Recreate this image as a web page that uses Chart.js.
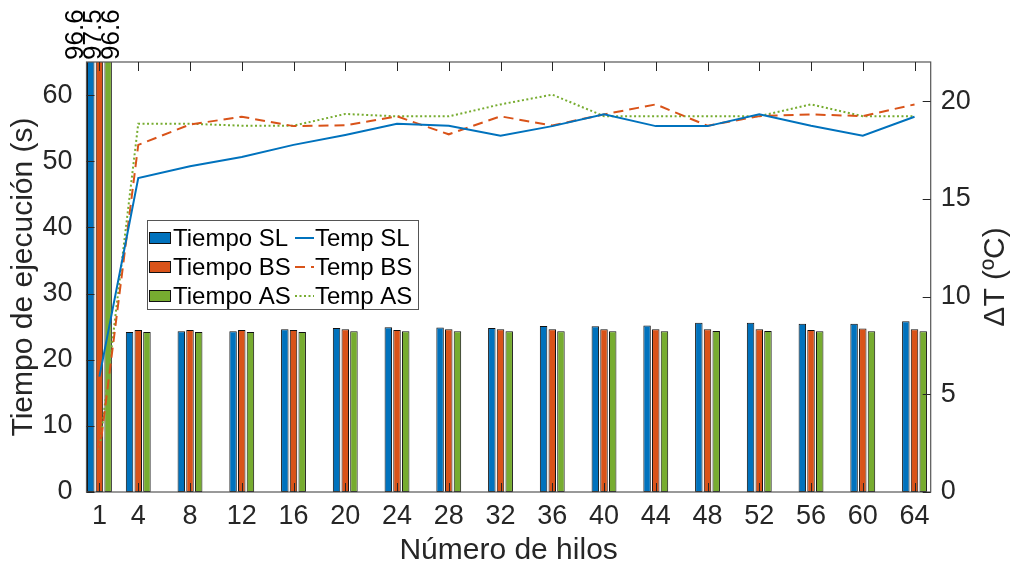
<!DOCTYPE html>
<html>
<head>
<meta charset="utf-8">
<script src="https://cdn.jsdelivr.net/npm/chart.js@4.4.1/dist/chart.umd.min.js"></script>
<style>
  html, body { margin: 0; padding: 0; background: #fff; }
</style>
</head>
<body>
<canvas id="chart" width="1011" height="570"></canvas>
<script>
// datos
const threads = [1, 4, 8, 12, 16, 20, 24, 28, 32, 36, 40, 44, 48, 52, 56, 60, 64];
const tiempoSL = [96.6, 24.2, 24.3, 24.3, 24.6, 24.8, 24.9, 24.85, 24.8, 25.1, 25.05, 25.15, 25.6, 25.6, 25.45, 25.45, 25.8];
const tiempoBS = [97.5, 24.5, 24.5, 24.5, 24.5, 24.6, 24.5, 24.6, 24.6, 24.6, 24.6, 24.6, 24.6, 24.6, 24.5, 24.7, 24.6];
const tiempoAS = [96.6, 24.2, 24.2, 24.2, 24.2, 24.3, 24.3, 24.3, 24.3, 24.3, 24.3, 24.3, 24.35, 24.35, 24.3, 24.3, 24.3];
const tempSL = [5.9, 16.06, 16.67, 17.14, 17.76, 18.27, 18.84, 18.74, 18.23, 18.72, 19.32, 18.72, 18.72, 19.32, 18.74, 18.23, 19.2];
const tempBS = [2.0, 17.76, 18.8, 19.2, 18.72, 18.76, 19.22, 18.3, 19.22, 18.75, 19.32, 19.83, 18.74, 19.23, 19.32, 19.23, 19.83];
const tempAS = [2.14, 18.84, 18.84, 18.74, 18.74, 19.34, 19.22, 19.22, 19.83, 20.33, 19.23, 19.23, 19.23, 19.23, 19.83, 19.23, 19.23];
const leftTicks = [0, 10, 20, 30, 40, 50, 60];
const rightTicks = [0, 5, 10, 15, 20];

const FONT = "'Liberation Sans', Arial, sans-serif";
const TXT = "#262626";
const AXIS = "#555";

const pts = (arr) => arr.map((v, i) => ({ x: threads[i], y: v }));

const barDs = (label, data, color) => ({
  type: "bar",
  label: label,
  data: pts(data),
  backgroundColor: color,
  borderColor: "#111",
  borderWidth: 1,
  borderSkipped: false,
  yAxisID: "y",
  order: 2,
  categoryPercentage: 0.672,
  barPercentage: 0.86,
});

const lineDs = (label, data, color, dash) => ({
  type: "line",
  label: label,
  data: pts(data),
  borderColor: color,
  backgroundColor: color,
  borderWidth: 2,
  borderDash: dash,
  pointRadius: 0,
  tension: 0,
  fill: false,
  yAxisID: "y2",
  order: 1,
});

// ticks hacia dentro, caja, leyenda y etiquetas de la barra 1
const extras = {
  id: "extras",
  afterDraw(chart) {
    const ctx = chart.ctx;
    const a = chart.chartArea;
    const xs = chart.scales.x, yl = chart.scales.y, yr = chart.scales.y2;

    ctx.save();
    ctx.strokeStyle = AXIS;
    ctx.lineWidth = 1.2;
    ctx.strokeRect(a.left, a.top, a.right - a.left, a.bottom - a.top);

    ctx.strokeStyle = TXT;
    ctx.lineWidth = 1;
    ctx.beginPath();
    threads.forEach((t) => {
      const px = Math.round(xs.getPixelForValue(t)) + 0.5;
      ctx.moveTo(px, a.bottom); ctx.lineTo(px, a.bottom - 9);
      ctx.moveTo(px, a.top); ctx.lineTo(px, a.top + 9);
    });
    leftTicks.forEach((t) => {
      const py = Math.round(yl.getPixelForValue(t)) + 0.5;
      ctx.moveTo(a.left, py); ctx.lineTo(a.left + 8, py);
    });
    rightTicks.forEach((t) => {
      const py = Math.round(yr.getPixelForValue(t)) + 0.5;
      ctx.moveTo(a.right, py); ctx.lineTo(a.right - 8, py);
    });
    ctx.stroke();

    // etiquetas de valor sobre el grupo 1 (recortado)
    const cx = xs.getPixelForValue(threads[0]);
    const tops = [tiempoSL[0], tiempoBS[0], tiempoAS[0]];
    ctx.fillStyle = "#000";
    ctx.font = "26px " + FONT;
    ctx.textAlign = "left";
    ctx.textBaseline = "middle";
    tops.forEach((v, i) => {
      ctx.save();
      ctx.translate(cx - 6 + (i - 1) * 18, a.top - 2);
      ctx.rotate(-Math.PI / 2);
      ctx.fillText(v.toFixed(1), 0, 0);
      ctx.restore();
    });

    // titulo eje derecho
    ctx.save();
    ctx.fillStyle = TXT;
    ctx.font = "30px " + FONT;
    ctx.textAlign = "center";
    ctx.textBaseline = "middle";
    ctx.translate(996, (a.top + a.bottom) / 2);
    ctx.rotate(-Math.PI / 2);
    ctx.fillText("\u0394T (\u00baC)", 0, 0);
    ctx.restore();

    // leyenda
    const ds = chart.data.datasets;
    const lx = 147, ly = 220, lw = 271, lh = 89;
    ctx.fillStyle = "#fff";
    ctx.fillRect(lx, ly, lw, lh);
    ctx.strokeStyle = AXIS;
    ctx.lineWidth = 1;
    ctx.strokeRect(lx + 0.5, ly + 0.5, lw, lh);
    ctx.font = "24px " + FONT;
    ctx.textAlign = "left";
    ctx.textBaseline = "middle";
    for (let r = 0; r < 3; r++) {
      const ry = 238 + r * 29;
      const b = ds[r];
      ctx.fillStyle = b.backgroundColor;
      ctx.fillRect(149, ry - 6, 22, 12);
      ctx.strokeStyle = "#111";
      ctx.strokeRect(149.5, ry - 5.5, 21, 11);
      ctx.fillStyle = "#000";
      ctx.fillText(b.label, 173, ry + 1);

      const l = ds[r + 3];
      ctx.strokeStyle = l.borderColor;
      ctx.lineWidth = 2;
      ctx.setLineDash(l.borderDash);
      ctx.beginPath();
      ctx.moveTo(295, ry); ctx.lineTo(314, ry);
      ctx.stroke();
      ctx.setLineDash([]);
      ctx.lineWidth = 1;
      ctx.fillStyle = "#000";
      ctx.fillText(l.label, 315, ry + 1);
    }
    ctx.restore();
  },
};

new Chart(document.getElementById("chart").getContext("2d"), {
  type: "bar",
  data: {
    datasets: [
      barDs("Tiempo SL", tiempoSL, "#0072BD"),
      barDs("Tiempo BS", tiempoBS, "#D95319"),
      barDs("Tiempo AS", tiempoAS, "#77AC30"),
      lineDs("Temp SL", tempSL, "#0072BD", []),
      lineDs("Temp BS", tempBS, "#D95319", [10, 6]),
      lineDs("Temp AS", tempAS, "#77AC30", [2, 2.5]),
    ],
  },
  options: {
    responsive: false,
    animation: false,
    devicePixelRatio: 1,
    layout: { padding: { top: 62, left: 0, right: 0, bottom: 0 } },
    plugins: { legend: { display: false }, tooltip: { enabled: false } },
    scales: {
      x: {
        type: "linear",
        min: 0,
        max: 65.25,
        offset: false,
        grid: { display: false, drawTicks: false },
        border: { display: false },
        afterBuildTicks: (s) => { s.ticks = threads.map((v) => ({ value: v })); },
        afterFit: (s) => { s.height = 78; },
        ticks: { color: TXT, font: { family: FONT, size: 27 }, padding: 8, maxRotation: 0, autoSkip: false },
        title: { display: true, text: "Número de hilos", color: TXT, font: { family: FONT, size: 30 }, padding: { top: 0, bottom: 1 } },
      },
      y: {
        position: "left",
        min: 0,
        max: 65,
        grid: { display: false, drawTicks: false },
        border: { display: false },
        afterBuildTicks: (s) => { s.ticks = leftTicks.map((v) => ({ value: v })); },
        afterFit: (s) => { s.width = 86.5; },
        ticks: { color: TXT, font: { family: FONT, size: 27 }, padding: 14 },
        title: { display: true, text: "Tiempo de ejecución (s)", color: TXT, font: { family: FONT, size: 30 }, padding: { top: 6, bottom: 0 } },
      },
      y2: {
        position: "right",
        min: 0,
        max: 22,
        grid: { display: false, drawTicks: false },
        border: { display: false },
        afterBuildTicks: (s) => { s.ticks = rightTicks.map((v) => ({ value: v })); },
        afterFit: (s) => { s.width = 80.3; },
        ticks: { color: TXT, font: { family: FONT, size: 27 }, padding: 10 },
      },
    },
  },
  plugins: [extras],
});
</script>
</body>
</html>
